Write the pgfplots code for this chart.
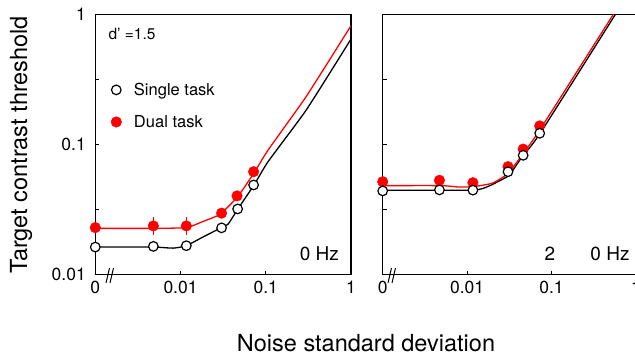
\documentclass[border=0pt]{standalone}
\usepackage{pgfplots}
\pgfplotsset{compat=1.18}
\usepackage{pgfplotstable}
\usepackage{fontspec}
\setmainfont{TeX Gyre Heros}

\pgfplotstableread{
x y ep em
0.001 0.0163 0 0
0.0048 0.0165 0.0013 0.0013
0.0117 0.0167 0.0011 0.0011
0.0303 0.0229 0 0
0.0468 0.0320 0 0
0.0720 0.0489 0 0
}\LS
\pgfplotstableread{
x y ep em
0.001 0.0230 0 0
0.0048 0.0237 0.0040 0.0035
0.0117 0.0237 0.0040 0.0035
0.0303 0.0297 0.0012 0.0012
0.0460 0.0403 0.0015 0.0015
0.0720 0.0618 0.0020 0.0020
}\LD
\pgfplotstableread{
x y
0.001 0.0163
0.0048 0.0163
0.0082 0.0160
0.0117 0.0167
0.0184 0.0195
0.029 0.0227
0.0362 0.0245
0.0468 0.0318
0.073 0.049
0.1067 0.074
0.3 0.185
1 0.645
}\LSc
\pgfplotstableread{
x y
0.001 0.0227
0.0048 0.0227
0.0117 0.0230
0.018 0.0255
0.029 0.0291
0.0468 0.0397
0.073 0.0607
0.1067 0.0908
0.3 0.235
1 0.817
}\LDc
\pgfplotstableread{
x y ep em
0.001 0.0440 0 0
0.0047 0.0448 0.002 0.002
0.0117 0.0446 0.002 0.002
0.0305 0.0618 0 0
0.0461 0.0826 0 0
0.0724 0.1220 0 0
}\RS
\pgfplotstableread{
x y ep em
0.001 0.0518 0 0
0.0047 0.0531 0.004 0.004
0.0117 0.0509 0.004 0.004
0.0305 0.0676 0.002 0.002
0.0461 0.0922 0 0
0.0724 0.1390 0 0
}\RD
\pgfplotstableread{
x y
0.001 0.0446
0.0117 0.0446
0.0182 0.048
0.0299 0.0566
0.0328 0.060
0.0449 0.0806
0.0724 0.1205
0.571 1.0
}\RSc
\pgfplotstableread{
x y
0.001 0.0483
0.005 0.0483
0.008 0.0471
0.0117 0.0474
0.0198 0.0504
0.0299 0.0593
0.0449 0.083
0.0724 0.129
0.54 1.0
}\RDc

\pgfplotsset{
  sline/.style={black, line width=1.3pt, smooth, tension=0.3, no marks},
  dline/.style={red, line width=1.3pt, smooth, tension=0.3, no marks},
  myleg/.style={legend image code/.code={\draw[##1] plot coordinates {(0pt,0pt)}; \node[inner sep=0pt, minimum size=0pt, draw=none, fill=none] at (17.5pt,0pt) {};}},
}

\begin{document}
\begin{tikzpicture}[x=1pt,y=1pt]
\path[use as bounding box] (0,0) rectangle (635,358);

\begin{axis}[
  anchor=south west, at={(95.3pt,83.3pt)},
  scale only axis, width=255.7pt, height=260.4pt,
  xmode=log, ymode=log, xmin=0.001, xmax=1, ymin=0.01, ymax=1,
  xminorticks=false, yminorticks=false,
  axis line style={line width=1.5pt},
  tick style={line width=1pt, black},
  major tick length=4pt, tick align=inside, tick pos=left,
  xtick={0.001,0.01,0.1,1}, xticklabels={0,0.01,0.1,1},
  ytick={0.01,0.0316,0.1,0.316,1},
  yticklabels={0.01,,0.1,,1},
  ticklabel style={font=\fontsize{17.5}{20}\selectfont},
  yticklabel style={xshift=-6pt},
  xticklabel style={yshift=-2.5pt},
  /pgf/number format/assume math mode=true,
  legend style={draw=none, fill=none, at={(axis description cs:0.0606,0.737)}, anchor=north west,
    font=\fontsize{16.5}{19}\selectfont, row sep=18.4pt, column sep=0pt, inner sep=0pt,
    nodes={inner sep=0pt}},
  legend cell align=left,
]
\addlegendimage{only marks, mark=*, mark size=4.8pt, mark options={fill=white, draw=black, line width=1.2pt}, myleg}
\addlegendentry{Single task}
\addlegendimage{only marks, mark=*, mark size=5.3pt, mark options={fill=red, draw=red}, myleg}
\addlegendentry{Dual task}
\addplot[sline, forget plot] table {\LSc};
\addplot[dline, forget plot] table {\LDc};
\addplot[forget plot, only marks, mark=*, mark size=5.3pt, mark options={fill=red, draw=red},
  error bars/.cd, y dir=both, y explicit, error mark=none, error bar style={red, line width=1.5pt}]
  table[x=x, y=y, y error plus=ep, y error minus=em] {\LD};
\addplot[forget plot, only marks, mark=*, mark size=4.8pt, mark options={fill=white, draw=black, line width=1.2pt},
  error bars/.cd, y dir=both, y explicit, error mark=none, error bar style={black, line width=1.2pt}]
  table[x=x, y=y, y error plus=ep, y error minus=em] {\LS};
\end{axis}

\begin{axis}[
  anchor=south west, at={(382.7pt,83.3pt)},
  scale only axis, width=253.3pt, height=260.4pt,
  xmode=log, ymode=log, xmin=0.001, xmax=1, ymin=0.01, ymax=1,
  xminorticks=false, yminorticks=false,
  axis line style={line width=1.5pt},
  tick style={line width=1pt, black},
  major tick length=4pt, tick align=inside, tick pos=left,
  xtick={0.001,0.01,0.1,1}, xticklabels={0,0.01,0.1,1},
  ytick={0.01,0.0316,0.1,0.316,1},
  yticklabels={},
  ticklabel style={font=\fontsize{17.5}{20}\selectfont},
  xticklabel style={yshift=-2.5pt},
  /pgf/number format/assume math mode=true,
]
\addplot[sline] table {\RSc};
\addplot[dline] table {\RDc};
\addplot[only marks, mark=*, mark size=5.3pt, mark options={fill=red, draw=red},
  error bars/.cd, y dir=both, y explicit, error mark=none, error bar style={red, line width=1.5pt}]
  table[x=x, y=y, y error plus=ep, y error minus=em] {\RD};
\addplot[only marks, mark=*, mark size=4.8pt, mark options={fill=white, draw=black, line width=1.2pt},
  error bars/.cd, y dir=both, y explicit, error mark=none, error bar style={black, line width=1.2pt}]
  table[x=x, y=y, y error plus=ep, y error minus=em] {\RS};
\end{axis}

% axis break marks
\draw[line width=1pt] (106,75) -- (109.5,90) (110,75) -- (113.5,90);
\draw[line width=1pt] (388,75) -- (391.5,90) (392,75) -- (395.5,90);

% texts
\node[font=\fontsize{15.5}{18}\selectfont] at (132,324) {d' =1.5};
\node[font=\fontsize{19}{22}\selectfont] at (319.3,104) {0 Hz};
\node[font=\fontsize{19}{22}\selectfont] at (550,104) {2};
\node[font=\fontsize{19}{22}\selectfont] at (610,104) {0 Hz};
\node[font=\fontsize{23.5}{27}\selectfont, rotate=90] at (21,213) {Target contrast threshold};
\node[font=\fontsize{23.5}{27}\selectfont] at (366,15) {Noise standard deviation};
\end{tikzpicture}
\end{document}
